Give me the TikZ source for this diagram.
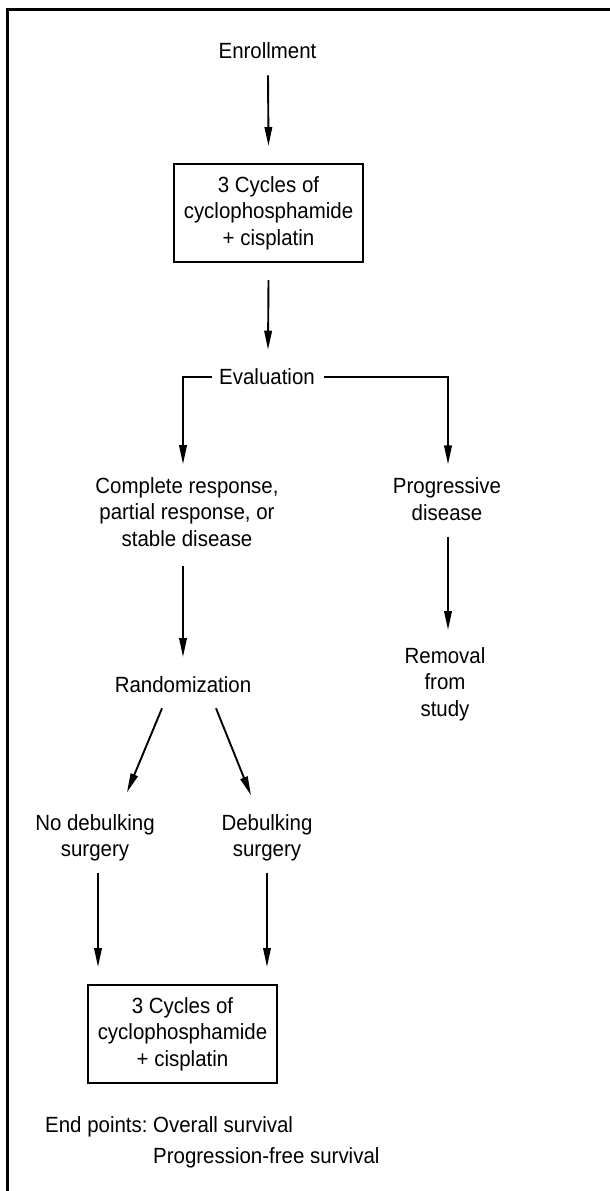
\documentclass[tikz,border=0pt]{standalone}
\usepackage{fontspec}
\setmainfont{Liberation Sans}[FakeStretch=0.93]
\usetikzlibrary{arrows.meta,positioning}
\begin{document}
\begin{tikzpicture}[x=1pt,y=-1pt,
  txt/.style={inner sep=0pt,align=center,font=\fontsize{22}{26.5}\selectfont},
  boxnode/.style={txt,draw,line width=2pt,minimum width=189pt,minimum height=98pt},
  arr/.style={line width=1.9pt,-{Triangle[length=19pt,width=7.5pt]}},
  ln/.style={line width=1.9pt}]
\useasboundingbox (0,0) rectangle (610,1191);
\draw[line width=3pt] (610,9.3) -- (7.7,9.3) -- (7.7,1191);

\node[txt] (enr) at (267.5,51) {Enrollment};
\node[boxnode] (box1) at (268.5,213) {3 Cycles of\\cyclophosphamide\\+ cisplatin};
\node[txt] (eval) at (267,377) {Evaluation};
\node[txt] (cr) at (187,512) {Complete response,\\partial response, or\\stable disease};
\node[txt] (prog) at (447,499) {Progressive\\disease};
\node[txt] (rem) at (445,684) {Removal\\from\\study};
\node[txt] (rand) at (183,685) {Randomization};
\node[txt] (nodeb) at (95,838) {No debulking\\surgery};
\node[txt] (deb) at (267,838) {Debulking\\surgery};
\node[boxnode] (box2) at (182.5,1034) {3 Cycles of\\cyclophosphamide\\+ cisplatin};
\node[txt,anchor=base west] (ep) at (45,1132) {End points:};
\node[txt,anchor=base west] (os) at (153,1132) {Overall survival};
\node[txt,anchor=base west] (pfs) at (153,1163) {Progression-free survival};

\draw[arr] ([xshift=0.5pt,yshift=-16pt]enr.south) -- ([yshift=17pt]box1.north);
\draw[arr] ([yshift=-17pt]box1.south) -- ([xshift=-0.5pt,yshift=19pt]box1.south |- eval.north);
\draw[arr] ([xshift=-7pt]eval.west) -| ([xshift=-4pt,yshift=13pt]cr.north);
\draw[arr] ([xshift=9pt]eval.east) -| ([xshift=1pt,yshift=13pt]prog.north);
\draw[arr] ([xshift=-4pt,yshift=-19pt]cr.south) -- ([xshift=-4pt,yshift=-657pt]cr.south |- 0,0);
\draw[arr] ([xshift=1pt,yshift=-16pt]prog.south) -- ([xshift=1pt,yshift=-630pt]prog.south |- 0,0);
\draw[arr] ([xshift=-21pt,yshift=-15pt]rand.south) -- ([xshift=32pt,yshift=22pt]nodeb.north);
\draw[arr] ([xshift=33pt,yshift=-15pt]rand.south) -- ([xshift=-16pt,yshift=19pt]deb.north);
\draw[arr] ([xshift=3pt,yshift=-11pt]nodeb.south) -- ([xshift=3pt,yshift=17pt]nodeb.south |- box2.north);
\draw[arr] ([yshift=-11pt]deb.south) -- ([yshift=17pt]deb.south |- box2.north);
\end{tikzpicture}
\end{document}
